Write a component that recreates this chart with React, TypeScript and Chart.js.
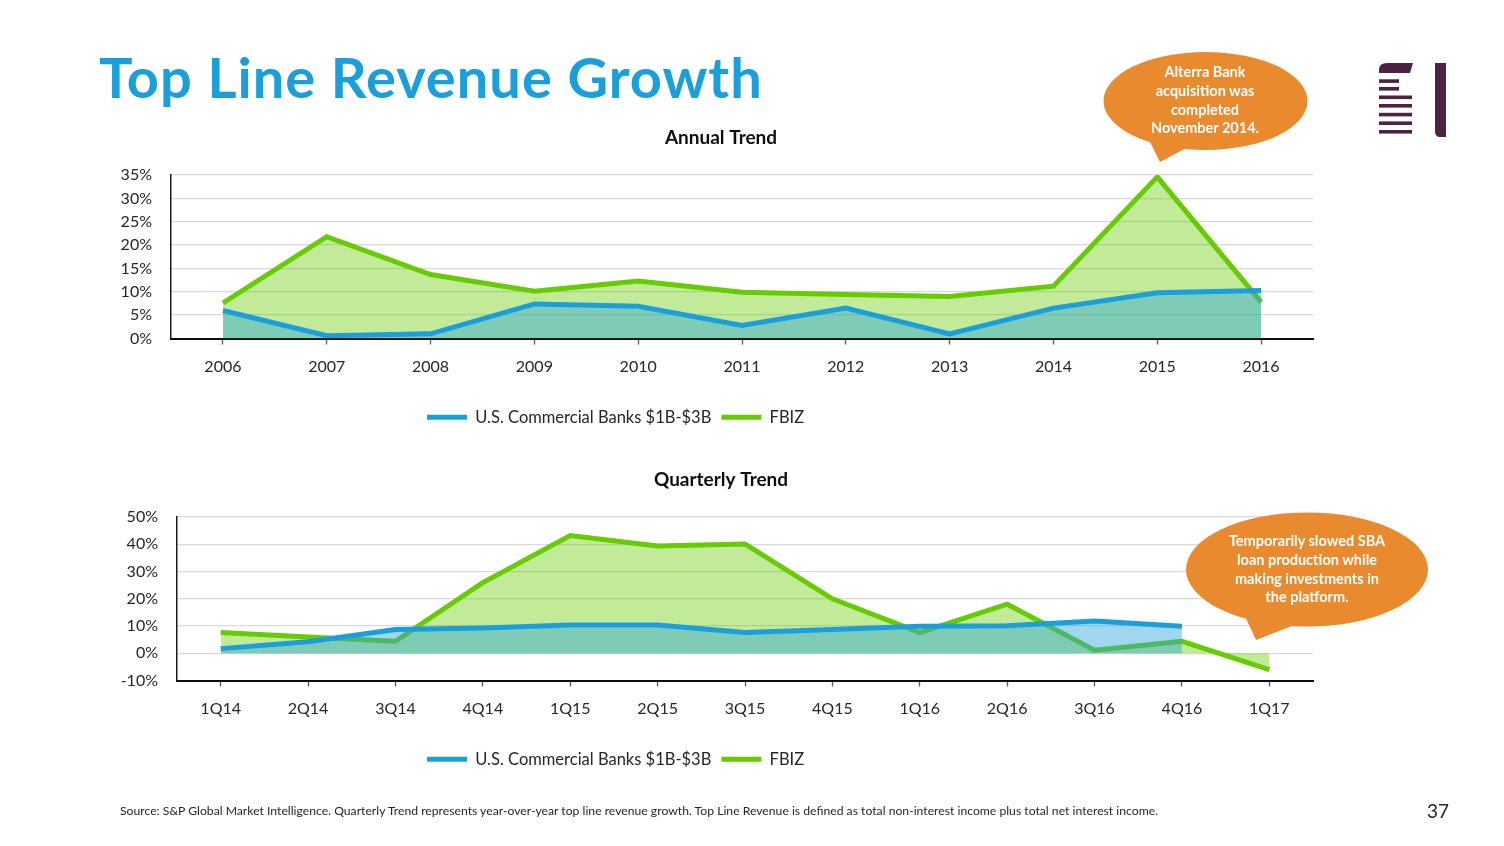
import React, { useEffect, useRef } from "react";
import { Chart, registerables } from "chart.js";

Chart.register(...registerables);

// ---------- data ----------
const annualLabels = ["2006", "2007", "2008", "2009", "2010", "2011", "2012", "2013", "2014", "2015", "2016"];
const annualBanks = [6.0, 0.6, 1.0, 7.4, 6.9, 2.8, 6.5, 1.0, 6.5, 9.8, 10.3];
const annualFbiz = [7.6, 21.8, 13.7, 10.1, 12.3, 9.9, 9.4, 9.0, 11.2, 34.6, 7.8];

const quarterLabels = ["1Q14", "2Q14", "3Q14", "4Q14", "1Q15", "2Q15", "3Q15", "4Q15", "1Q16", "2Q16", "3Q16", "4Q16", "1Q17"];
const quarterBanks = [1.7, 4.2, 8.7, 9.3, 10.4, 10.4, 7.6, 8.7, 9.9, 10.1, 11.8, 9.9, null];
const quarterFbiz = [7.6, 6.0, 4.4, 25.9, 43.2, 39.4, 40.1, 20.0, 7.6, 18.0, 1.1, 4.4, -6.0];

const seriesNames = ["U.S. Commercial Banks $1B-$3B", "FBIZ"];

const annualTicks = { min: 0, max: 35, step: 5 };
const quarterTicks = { min: -10, max: 50, step: 10 };

const FONT = "Lato, 'Open Sans', sans-serif";
const BLUE = "#1b9fdc";
const GREEN = "#66cc00";
const TEXT = "#262626";

const CANVAS_LEFT = 71;
const CANVAS_W = 1271;
const CANVAS_H = 333;

// positions the library's title and legend blocks like on the slide
function blockPlace(titleCx: number, legendX: number, legendCy: number) {
  return {
    id: "blockPlace",
    afterLayout(chart: any) {
      const t = chart.titleBlock;
      if (t) {
        const dx = titleCx - (t.left + t.right) / 2;
        t.left += dx;
        t.right += dx;
      }
      const l = chart.legend;
      if (l) {
        const pad = l.options.labels.padding;
        const dx = legendX - (l.left + pad);
        const dy = legendCy - (l.top + pad + 8);
        l.left += dx;
        l.right += dx;
        l.top += dy;
        l.bottom += dy;
      }
    },
  };
}

function makeConfig(
  labels: string[],
  banks: (number | null)[],
  fbiz: number[],
  ticks: { min: number; max: number; step: number },
  title: string,
  yWidth: number
): any {
  return {
    type: "line",
    data: {
      labels,
      datasets: [
        {
          label: seriesNames[0],
          data: banks,
          borderColor: BLUE,
          backgroundColor: "rgba(44,164,218,0.45)",
          borderWidth: 5,
          pointRadius: 0,
          fill: "origin",
          tension: 0,
          spanGaps: false,
        },
        {
          label: seriesNames[1],
          data: fbiz,
          borderColor: GREEN,
          backgroundColor: "rgba(102,204,0,0.4)",
          borderWidth: 5,
          pointRadius: 0,
          fill: "origin",
          tension: 0,
        },
      ],
    },
    options: {
      responsive: false,
      animation: false,
      devicePixelRatio: 1,
      layout: { padding: { left: 0, right: 29, top: 0, bottom: 30 } },
      plugins: {
        title: {
          display: true,
          text: title,
          color: "#0d0d0d",
          font: { family: FONT, size: 19, weight: "bold" },
          padding: { top: 4, bottom: 26.2 },
        },
        legend: {
          display: true,
          position: "bottom",
          align: "start",
          labels: {
            boxWidth: 40,
            boxHeight: 5,
            padding: 10,
            color: TEXT,
            font: { family: FONT, size: 16.5 },
            generateLabels(chart: any) {
              const items = Chart.defaults.plugins.legend.labels.generateLabels(chart);
              return items.map((it: any) => ({
                ...it,
                fillStyle: it.strokeStyle,
                lineWidth: 0,
              }));
            },
          },
        },
        tooltip: { enabled: false },
      },
      scales: {
        x: {
          type: "category",
          offset: true,
          grid: {
            display: true,
            drawOnChartArea: false,
            drawTicks: true,
            tickLength: 6,
            tickColor: "#595959",
            tickWidth: 1.3,
          },
          border: { display: true, color: "#0d0d0d", width: 2 },
          ticks: {
            color: TEXT,
            font: { family: FONT, size: 16 },
            padding: 12.4,
            autoSkip: false,
            maxRotation: 0,
          },
        },
        y: {
          min: ticks.min,
          max: ticks.max,
          afterFit(scale: any) {
            scale.width = yWidth;
          },
          grid: { color: "#d9d9d9", lineWidth: 1.3, drawTicks: false },
          border: { display: true, color: "#1a1a1a", width: 1.5 },
          ticks: {
            stepSize: ticks.step,
            autoSkip: false,
            color: TEXT,
            font: { family: FONT, size: 16 },
            padding: 19,
            callback: (v: number) => v + "%",
          },
        },
      },
    },
    plugins: [blockPlace(721 - CANVAS_LEFT, 427 - CANVAS_LEFT, 295)],
  };
}

function LineChart(props: { cfg: () => any; top: number }) {
  const ref = useRef<HTMLCanvasElement | null>(null);
  useEffect(() => {
    if (!ref.current) return;
    const chart = new Chart(ref.current, props.cfg());
    return () => chart.destroy();
  }, []);
  return (
    <canvas
      ref={ref}
      width={CANVAS_W}
      height={CANVAS_H}
      style={{ position: "absolute", left: CANVAS_LEFT, top: props.top, width: CANVAS_W, height: CANVAS_H }}
    />
  );
}

export default function App() {
  return (
    <div
      style={{
        position: "absolute",
        left: 0,
        top: 0,
        width: 1504,
        height: 846,
        background: "#ffffff",
        overflow: "hidden",
        fontFamily: FONT,
      }}
    >
      <LineChart
        top={122}
        cfg={() => makeConfig(annualLabels, annualBanks, annualFbiz, annualTicks, "Annual Trend", 171 - CANVAS_LEFT)}
      />
      <LineChart
        top={464}
        cfg={() => makeConfig(quarterLabels, quarterBanks, quarterFbiz, quarterTicks, "Quarterly Trend", 177 - CANVAS_LEFT)}
      />
      <svg
        width={1504}
        height={846}
        style={{ position: "absolute", left: 0, top: 0, pointerEvents: "none" }}
      >
        <text x={99} y={98} fill="#1a9fdb" fontFamily={FONT} fontWeight="bold" fontSize={56} letterSpacing={1}>
          Top Line Revenue Growth
        </text>

        {/* callout 1 */}
        <ellipse cx={1205.5} cy={101} rx={102} ry={49} fill="#ea8a2f" />
        <path d="M1148,138 L1160,162 L1190,146 Z" fill="#ea8a2f" />
        <g fill="#ffffff" fontFamily={FONT} fontWeight="bold" fontSize={14.5} textAnchor="middle">
          <text x={1205} y={77}>Alterra Bank</text>
          <text x={1205} y={96}>acquisition was</text>
          <text x={1205} y={115}>completed</text>
          <text x={1205} y={133}>November 2014.</text>
        </g>

        {/* callout 2 */}
        <ellipse cx={1307} cy={569.5} rx={121} ry={57} fill="#ea8a2f" />
        <path d="M1243,612 L1256,640 L1297,624 Z" fill="#ea8a2f" />
        <g fill="#ffffff" fontFamily={FONT} fontWeight="bold" fontSize={14.5} textAnchor="middle">
          <text x={1307} y={546}>Temporarily slowed SBA</text>
          <text x={1307} y={565}>loan production while</text>
          <text x={1307} y={584}>making investments in</text>
          <text x={1307} y={602}>the platform.</text>
        </g>

        {/* logo */}
        <g fill="#4e2243">
          <path d="M1379,73 L1379,70 Q1379,63 1387,63 L1413,63 L1410,73 Z" />
          <rect x={1379} y={79.3} width={20} height={3.6} />
          <rect x={1379} y={87} width={20} height={3.6} />
          <rect x={1379} y={95.5} width={33} height={3.6} />
          <rect x={1379} y={104} width={33} height={3.6} />
          <rect x={1379} y={112.8} width={33} height={3.6} />
          <rect x={1379} y={121.4} width={33} height={3.6} />
          <rect x={1379} y={130} width={33} height={3.6} />
          <path d="M1435,63 L1446,63 L1446,137 L1440,137 Q1435,137 1435,131 Z" />
        </g>

        <text x={120} y={815} fill={TEXT} fontFamily={FONT} fontSize={12.2}>
          Source: S&amp;P Global Market Intelligence. Quarterly Trend represents year-over-year top line revenue growth. Top Line Revenue is defined as total non-interest income plus total net interest income.
        </text>
        <text x={1449} y={818} fill={TEXT} fontFamily={FONT} fontSize={19} textAnchor="end">
          37
        </text>
      </svg>
    </div>
  );
}
